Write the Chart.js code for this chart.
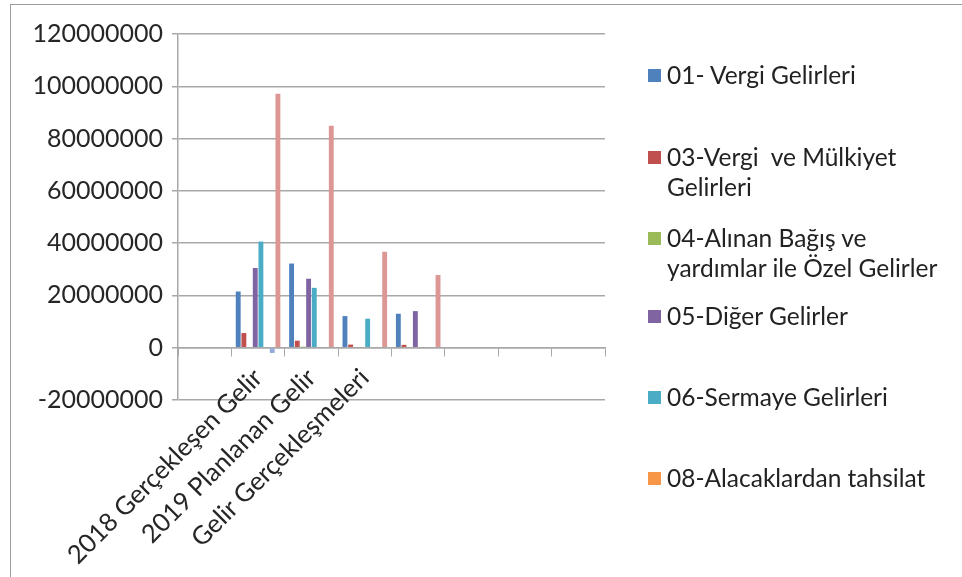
<!DOCTYPE html>
<html>
<head>
<meta charset="utf-8">
<script src="https://cdn.jsdelivr.net/npm/chart.js@4.4.1/dist/chart.umd.min.js"></script>
<style>
  html, body { margin: 0; padding: 0; background: #fff; }
  #wrap { position: relative; width: 962px; height: 577px; overflow: hidden; }
  #frame { position: absolute; left: 10px; top: 4px; width: 970px; height: 600px;
           border-left: 1px solid #9c9c9c; border-top: 1px solid #9c9c9c; }
  #chart { position: absolute; left: 0; top: 0; }
  #legend { position: absolute; left: 0; top: 0; width: 962px; height: 577px;
            font-family: Lato, sans-serif; font-size: 24.5px; color: #222; }
  .item { position: absolute; left: 648px; white-space: pre; line-height: 30px; }
  .item span.box { position: absolute; left: 0; top: 9px; width: 13px; height: 13px; }
  .item span.txt { display: block; padding-left: 19px; }
</style>
</head>
<body>
<div id="wrap">
  <div id="frame"></div>
  <canvas id="chart" width="962" height="577"></canvas>
  <div id="legend"></div>
</div>
<script>
// categories (first and last ones are empty in the original sheet)
const categories = ["", "2018 Gerçekleşen Gelir", "2019 Planlanan Gelir", "Gelir Gerçekleşmeleri", "", "", "", ""];

// series values
const vergiGelirleri   = [null, 21500000, 32200000, 12100000, 13000000, null, null, null];
const mulkiyetGelirleri = [null, 5600000, 2700000, 1200000, 1100000, null, null, null];
const bagisYardim      = [null, 0, 400000, 0, 0, null, null, null];
const digerGelirler    = [null, 30500000, 26400000, 0, 14000000, null, null, null];
const sermayeGelirleri = [null, 40600000, 22900000, 11100000, 0, null, null, null];
const alacakTahsilat   = [null, 0, 0, 0, 0, null, null, null];
const redIadeler       = [null, -2000000, 300000, 0, 0, null, null, null];
const toplam           = [null, 97100000, 84900000, 36700000, 27800000, null, null, null];

const seriesNames = [
  "01- Vergi Gelirleri",
  "03-Vergi  ve Mülkiyet\nGelirleri",
  "04-Alınan Bağış ve\nyardımlar ile Özel Gelirler",
  "05-Diğer Gelirler",
  "06-Sermaye Gelirleri",
  "08-Alacaklardan tahsilat",
  "09-Red ve İadeler",
  "Toplam"
];
const seriesColors = ["#4f81bd", "#c0504d", "#9bbb59", "#8064a2", "#4bacc6", "#f79646", "#93a9dc", "#dc9795"];

// y axis ticks
const yMin = -20000000, yMax = 120000000, yStep = 20000000;

// legend layout (only 6 entries fit in the original box)
const legendTops = [60, 142, 223, 301, 382, 463];

const allValues = [vergiGelirleri, mulkiyetGelirleri, bagisYardim, digerGelirler,
                   sermayeGelirleri, alacakTahsilat, redIadeler, toplam];

const datasets = allValues.map((vals, i) => ({
  label: seriesNames[i].replace("\n", " "),
  data: vals,
  backgroundColor: seriesColors[i],
  borderWidth: 0,
  categoryPercentage: 0.85,
  barPercentage: 0.86
}));

const gridGray = "#a8a8a8";

new Chart(document.getElementById('chart'), {
  type: 'bar',
  data: { labels: categories, datasets: datasets },
  options: {
    responsive: false,
    animation: false,
    layout: { padding: { top: 34, right: 357, bottom: 177, left: 0 } },
    plugins: { legend: { display: false }, tooltip: { enabled: false } },
    scales: {
      x: {
        position: { y: 0 },
        offset: true,
        grid: { drawOnChartArea: false, drawTicks: true, tickLength: 8, color: gridGray, offset: true },
        border: { color: gridGray, width: 1.5 },
        ticks: { autoSkip: false, minRotation: 45, maxRotation: 45, padding: 7,
                 color: "#262626", font: { family: "Lato, sans-serif", size: 25.5 } }
      },
      y: {
        min: yMin, max: yMax,
        afterFit: (scale) => { scale.width = 178; },
        grid: { color: gridGray, lineWidth: 1.5, tickLength: 6 },
        border: { color: gridGray, width: 1.5 },
        ticks: { stepSize: yStep, padding: 9, color: "#262626", font: { family: "Lato, sans-serif", size: 25 },
                 callback: (v) => String(v) }
      }
    }
  }
});

// legend (HTML, six visible entries as in the original)
const legend = document.getElementById('legend');
legendTops.forEach((top, i) => {
  const item = document.createElement('div');
  item.className = 'item';
  item.style.top = top + 'px';
  item.innerHTML = '<span class="box" style="background:' + seriesColors[i] + '"></span>' +
                   '<span class="txt"></span>';
  item.querySelector('.txt').textContent = seriesNames[i];
  legend.appendChild(item);
});
</script>
</body>
</html>
